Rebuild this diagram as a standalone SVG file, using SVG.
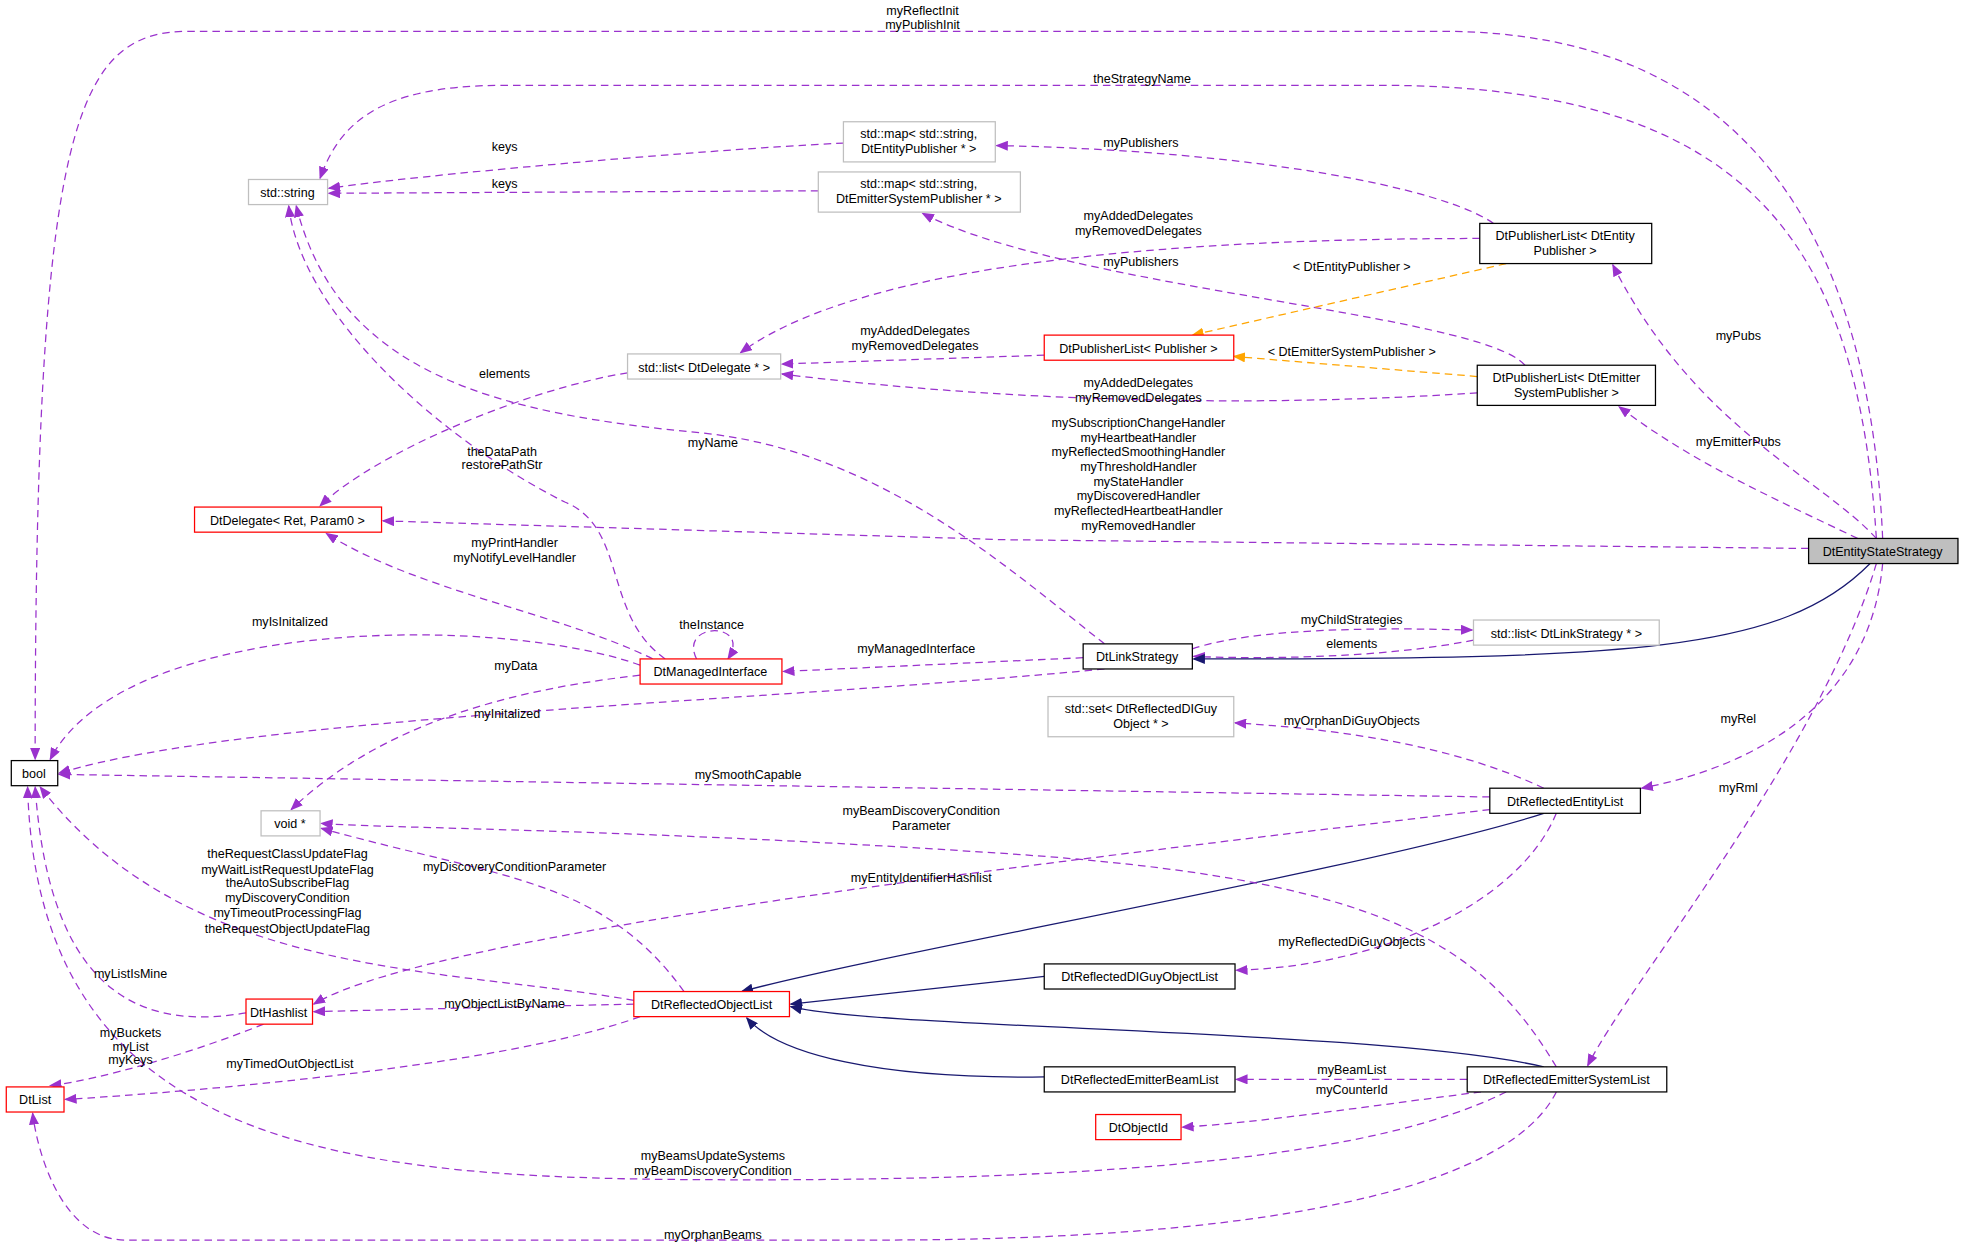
<svg xmlns="http://www.w3.org/2000/svg" width="1968" height="1250" viewBox="0 0 1968 1250">
<style>
text{font-family:"Liberation Sans",Arial,sans-serif;font-size:10px;fill:#000}
.n{fill:#fff;stroke:#000;stroke-width:1}
.g{fill:#fff;stroke:#bfbfbf;stroke-width:1}
.r{fill:#fff;stroke:#ff0000;stroke-width:1}
.c{text-anchor:middle}
.u{fill:none;stroke:#9a32cd;stroke-dasharray:6,4;marker-end:url(#pa)}
.o{fill:none;stroke:#ffa500;stroke-dasharray:6,4;marker-end:url(#oa)}
.v{fill:none;stroke:#191970;marker-end:url(#na)}
</style>
<defs>
<marker id="pa" markerWidth="10" markerHeight="8" refX="9" refY="4" orient="auto" markerUnits="userSpaceOnUse"><path d="M0,0L10,4L0,8z" fill="#9a32cd"/></marker>
<marker id="oa" markerWidth="10" markerHeight="8" refX="9" refY="4" orient="auto" markerUnits="userSpaceOnUse"><path d="M0,0L10,4L0,8z" fill="#ffa500"/></marker>
<marker id="na" markerWidth="10" markerHeight="8" refX="9" refY="4" orient="auto" markerUnits="userSpaceOnUse"><path d="M0,0L10,4L0,8z" fill="#191970"/></marker>
</defs>
<rect width="1968" height="1250" fill="#fff"/>
<g transform="scale(1.2551)">
<g id="edges">
<path class="u" d="M1500,429 C1490,200 1400,25 1150,25 L150,25 C60,25 28,100 28,605"/>
<path class="u" d="M1495,429 C1480,200 1400,68 1100,68 L400,68 C300,68 270,100 255,142"/>
<path class="u" d="M672,114 C550,120 330,140 262,150"/>
<path class="u" d="M652,152 L262,154"/>
<path class="u" d="M1190,178 C1150,150 1000,120 794,116"/>
<path class="u" d="M1179,190 C1000,190 700,200 590,281"/>
<path class="u" d="M832,283 L623,290"/>
<path class="u" d="M1177,313 C1000,325 800,320 623,298"/>
<path class="u" d="M1215,291 C1180,250 850,230 735,170"/>
<path class="o" d="M1200,210 L950,267"/>
<path class="o" d="M1177,300 L983,284"/>
<path class="u" d="M1495,429 C1450,380 1350,340 1285,211"/>
<path class="u" d="M1480,429 C1420,400 1350,370 1290,324"/>
<path class="u" d="M500,297 C420,310 300,360 255,403"/>
<path class="u" d="M1441,437 L800,430 L305,415"/>
<path class="u" d="M880,513 C800,450 700,360 560,345 C400,330 270,300 236,164"/>
<path class="u" d="M530,525 C480,490 500,420 450,400 C350,350 240,250 230,164"/>
<path class="u" d="M520,525 C450,490 330,470 260,425"/>
<path class="u" d="M510,530 C400,490 100,490 40,605"/>
<path class="u" d="M555,525 C540,495 600,495 580,525"/>
<path class="u" d="M863,524 L624,535"/>
<path class="u" d="M950,517 C1000,500 1100,500 1173,502"/>
<path class="u" d="M1174,510 C1100,525 1000,525 951,523"/>
<path class="v" d="M1490,449 C1420,520 1300,525 951,525"/>
<path class="u" d="M510,538 C400,550 300,580 232,645"/>
<path class="u" d="M880,533 C600,560 200,570 47,616"/>
<path class="u" d="M1230,628 C1150,590 1050,580 984,576"/>
<path class="u" d="M1187,635 L47,617"/>
<path class="u" d="M1187,645 C900,680 350,740 250,800"/>
<path class="u" d="M1500,449 C1490,560 1400,610 1308,628"/>
<path class="u" d="M1495,449 C1450,600 1300,780 1265,849"/>
<path class="v" d="M1230,648 C1100,690 700,760 591,790"/>
<path class="u" d="M1240,648 C1210,720 1100,770 985,773"/>
<path class="u" d="M1240,850 C1180,750 1100,700 800,680 C500,660 300,660 256,656"/>
<path class="u" d="M545,790 C480,700 400,700 256,660"/>
<path class="u" d="M505,797 C350,770 150,780 32,627"/>
<path class="u" d="M196,807 C120,820 40,800 28,627"/>
<path class="u" d="M505,800 L250,806"/>
<path class="u" d="M510,810 C400,850 150,870 52,876"/>
<path class="u" d="M210,816 C150,840 80,860 40,865"/>
<path class="v" d="M832,778 L630,800"/>
<path class="v" d="M832,858 C700,860 620,840 595,811"/>
<path class="v" d="M1230,850 C1100,820 700,820 630,802"/>
<path class="u" d="M1169,860 L985,860"/>
<path class="u" d="M1180,870 C1100,880 1000,895 942,898"/>
<path class="u" d="M1200,870 C1100,920 900,940 600,940 C300,940 30,930 22,627"/>
<path class="u" d="M1240,870 C1200,950 1000,988 700,988 L100,988 C50,988 30,920 26,887"/>
</g>
<g id="labels" class="c">
<text class="c" x="735" y="12">myReflectInit</text><text class="c" x="735" y="23">myPublishInit</text>
<text class="c" x="910" y="66">theStrategyName</text>
<text class="c" x="402" y="120">keys</text>
<text class="c" x="402" y="150">keys</text>
<text class="c" x="909" y="117">myPublishers</text>
<text class="c" x="907" y="175">myAddedDelegates</text><text class="c" x="907" y="187">myRemovedDelegates</text>
<text class="c" x="909" y="212">myPublishers</text>
<text class="c" x="1077" y="216">&lt; DtEntityPublisher &gt;</text>
<text class="c" x="729" y="267">myAddedDelegates</text><text class="c" x="729" y="279">myRemovedDelegates</text>
<text class="c" x="1077" y="284">&lt; DtEmitterSystemPublisher &gt;</text>
<text class="c" x="1385" y="271">myPubs</text>
<text class="c" x="402" y="301">elements</text>
<text class="c" x="907" y="308">myAddedDelegates</text><text class="c" x="907" y="320">myRemovedDelegates</text>
<text class="c" x="907" y="340">mySubscriptionChangeHandler</text>
<text class="c" x="907" y="352">myHeartbeatHandler</text>
<text class="c" x="907" y="363">myReflectedSmoothingHandler</text>
<text class="c" x="907" y="375">myThresholdHandler</text>
<text class="c" x="907" y="387">myStateHandler</text>
<text class="c" x="907" y="398">myDiscoveredHandler</text>
<text class="c" x="907" y="410">myReflectedHeartbeatHandler</text>
<text class="c" x="907" y="422">myRemovedHandler</text>
<text class="c" x="568" y="356">myName</text>
<text class="c" x="1385" y="355">myEmitterPubs</text>
<text class="c" x="400" y="363">theDataPath</text><text class="c" x="400" y="374">restorePathStr</text>
<text class="c" x="410" y="436">myPrintHandler</text><text class="c" x="410" y="448">myNotifyLevelHandler</text>
<text class="c" x="231" y="499">myIsInitalized</text>
<text class="c" x="567" y="501">theInstance</text>
<text class="c" x="1077" y="497">myChildStrategies</text>
<text class="c" x="1077" y="516">elements</text>
<text class="c" x="730" y="520">myManagedInterface</text>
<text class="c" x="411" y="534">myData</text>
<text class="c" x="404" y="572">myInitalized</text>
<text class="c" x="1077" y="578">myOrphanDiGuyObjects</text>
<text class="c" x="1385" y="576">myRel</text>
<text class="c" x="596" y="621">mySmoothCapable</text>
<text class="c" x="1385" y="631">myRml</text>
<text class="c" x="734" y="649">myBeamDiscoveryCondition</text><text class="c" x="734" y="661">Parameter</text>
<text class="c" x="229" y="684">theRequestClassUpdateFlag</text>
<text class="c" x="229" y="696">myWaitListRequestUpdateFlag</text>
<text class="c" x="229" y="707">theAutoSubscribeFlag</text>
<text class="c" x="229" y="719">myDiscoveryCondition</text>
<text class="c" x="229" y="731">myTimeoutProcessingFlag</text>
<text class="c" x="229" y="743">theRequestObjectUpdateFlag</text>
<text class="c" x="410" y="694">myDiscoveryConditionParameter</text>
<text class="c" x="734" y="703">myEntityIdentifierHashlist</text>
<text class="c" x="1077" y="754">myReflectedDiGuyObjects</text>
<text class="c" x="104" y="779">myListIsMine</text>
<text class="c" x="402" y="803">myObjectListByName</text>
<text class="c" x="104" y="826">myBuckets</text><text class="c" x="104" y="837">myList</text><text class="c" x="104" y="848">myKeys</text>
<text class="c" x="231" y="851">myTimedOutObjectList</text>
<text class="c" x="1077" y="856">myBeamList</text>
<text class="c" x="1077" y="872">myCounterId</text>
<text class="c" x="568" y="924">myBeamsUpdateSystems</text><text class="c" x="568" y="936">myBeamDiscoveryCondition</text>
<text class="c" x="568" y="987">myOrphanBeams</text>
</g>
<g id="DtEntityStateStrategy"><rect x="1441" y="429" width="119" height="20" fill="#bfbfbf" stroke="#000"/><text class="c" x="1500" y="443">DtEntityStateStrategy</text></g>
<g id="bool"><rect class="n" x="9" y="606" width="37" height="20"/><text class="c" x="27" y="620">bool</text></g>
<g id="string"><rect class="g" x="198" y="143" width="63" height="20"/><text class="c" x="229" y="157">std::string</text></g>
<g id="map1"><rect class="g" x="672" y="97" width="121" height="32"/><text class="c" x="732" y="110">std::map&lt; std::string,</text><text class="c" x="732" y="122">DtEntityPublisher * &gt;</text></g>
<g id="map2"><rect class="g" x="652" y="137" width="161" height="32"/><text class="c" x="732" y="150">std::map&lt; std::string,</text><text class="c" x="732" y="162">DtEmitterSystemPublisher * &gt;</text></g>
<g id="PubEntity"><rect class="n" x="1179" y="178" width="137" height="32"/><text class="c" x="1247" y="191">DtPublisherList&lt; DtEntity</text><text class="c" x="1247" y="203">Publisher &gt;</text></g>
<g id="PubPublisher"><rect class="r" x="832" y="267" width="151" height="20"/><text class="c" x="907" y="281">DtPublisherList&lt; Publisher &gt;</text></g>
<g id="PubEmitter"><rect class="n" x="1177" y="291" width="142" height="32"/><text class="c" x="1248" y="304">DtPublisherList&lt; DtEmitter</text><text class="c" x="1248" y="316">SystemPublisher &gt;</text></g>
<g id="listDelegate"><rect class="g" x="500" y="282" width="122" height="20"/><text class="c" x="561" y="296">std::list&lt; DtDelegate * &gt;</text></g>
<g id="DtDelegate"><rect class="r" x="155" y="404" width="149" height="20"/><text class="c" x="229" y="418">DtDelegate&lt; Ret, Param0 &gt;</text></g>
<g id="DtManagedInterface"><rect class="r" x="510" y="525" width="113" height="20"/><text class="c" x="566" y="539">DtManagedInterface</text></g>
<g id="DtLinkStrategy"><rect class="n" x="863" y="513" width="87" height="20"/><text class="c" x="906" y="527">DtLinkStrategy</text></g>
<g id="listLink"><rect class="g" x="1174" y="494" width="148" height="20"/><text class="c" x="1248" y="508">std::list&lt; DtLinkStrategy * &gt;</text></g>
<g id="setDIGuy"><rect class="g" x="835" y="555" width="148" height="32"/><text class="c" x="909" y="568">std::set&lt; DtReflectedDIGuy</text><text class="c" x="909" y="580">Object * &gt;</text></g>
<g id="void"><rect class="g" x="208" y="646" width="47" height="20"/><text class="c" x="231" y="660">void *</text></g>
<g id="DtReflectedEntityList"><rect class="n" x="1187" y="628" width="120" height="20"/><text class="c" x="1247" y="642">DtReflectedEntityList</text></g>
<g id="DtHashlist"><rect class="r" x="196" y="796" width="53" height="20"/><text class="c" x="222" y="810">DtHashlist</text></g>
<g id="DtReflectedObjectList"><rect class="r" x="505" y="790" width="124" height="20"/><text class="c" x="567" y="804">DtReflectedObjectList</text></g>
<g id="DtReflectedDIGuyObjectList"><rect class="n" x="832" y="768" width="152" height="20"/><text class="c" x="908" y="782">DtReflectedDIGuyObjectList</text></g>
<g id="DtReflectedEmitterBeamList"><rect class="n" x="832" y="850" width="152" height="20"/><text class="c" x="908" y="864">DtReflectedEmitterBeamList</text></g>
<g id="DtReflectedEmitterSystemList"><rect class="n" x="1169" y="850" width="159" height="20"/><text class="c" x="1248" y="864">DtReflectedEmitterSystemList</text></g>
<g id="DtObjectId"><rect class="r" x="873" y="888" width="68" height="20"/><text class="c" x="907" y="902">DtObjectId</text></g>
<g id="DtList"><rect class="r" x="5" y="866" width="46" height="20"/><text class="c" x="28" y="880">DtList</text></g>
</g>
</svg>
